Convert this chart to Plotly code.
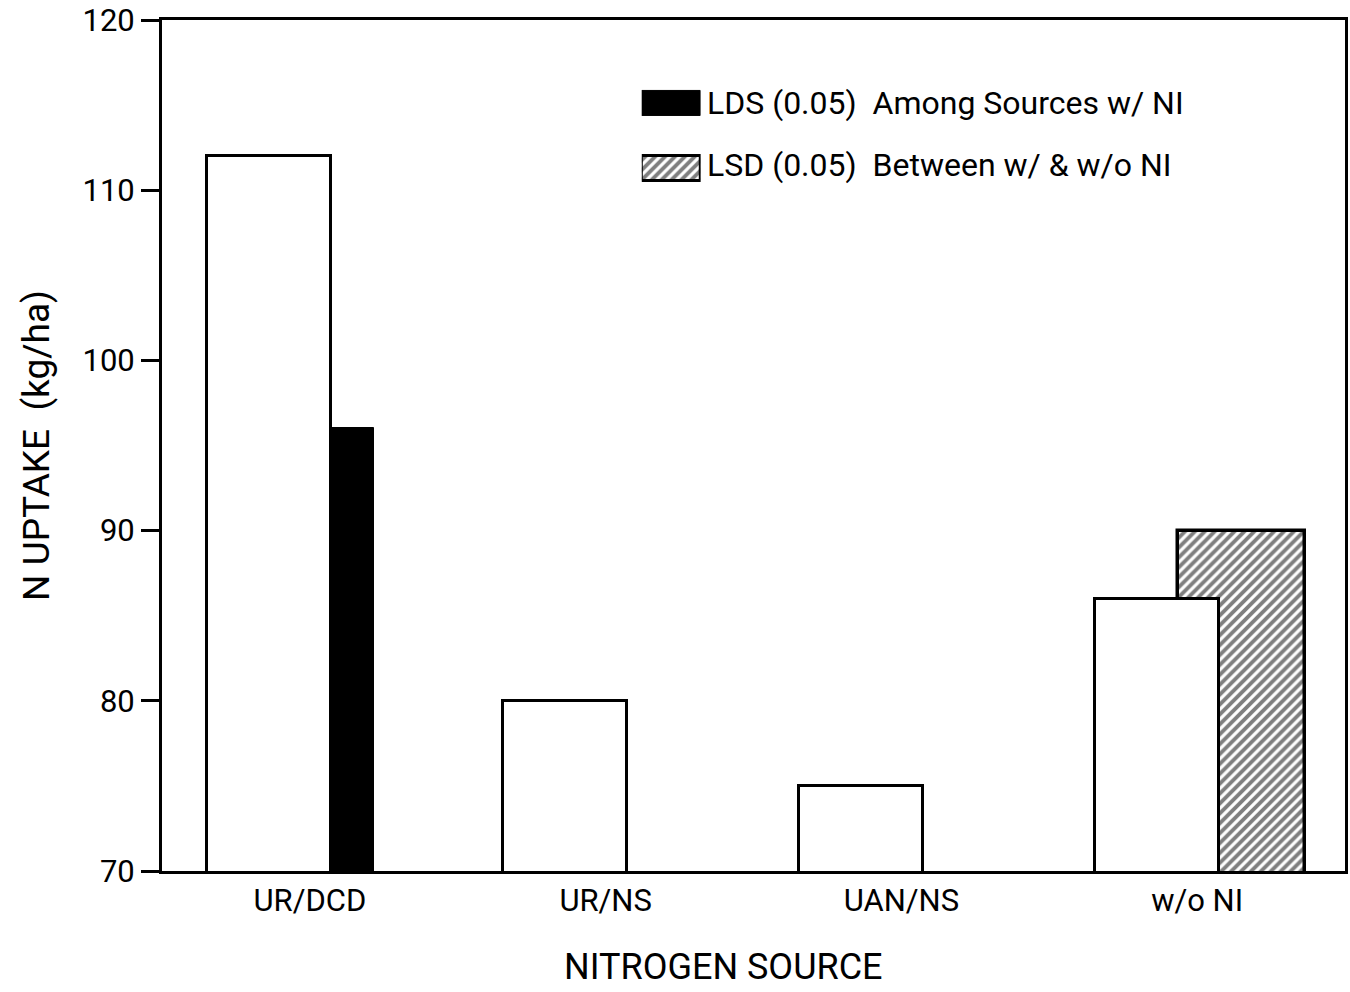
import plotly.graph_objects as go

# Nitrogen sources on the x axis
sources = ["UR/DCD", "UR/NS", "UAN/NS", "w/o NI"]
positions = [0, 1, 2, 3]

# N uptake (kg/ha) for each source
uptake = [112, 80, 75, 86]

# LSD bars: among sources with NI (drawn at UR/DCD) and between w/ and w/o NI (at w/o NI)
lds_among_label = "LDS (0.05)  Among Sources w/ NI"
lds_among_value = 96
lsd_between_label = "LSD (0.05)  Between w/ & w/o NI"
lsd_between_value = 90

y_ticks = [70, 80, 90, 100, 110, 120]

FONT = "Roboto, sans-serif"
HATCH = dict(shape="/", fgcolor="black", bgcolor="white", size=7, solidity=0.55)

fig = go.Figure()

# hatched LSD bar sits behind the w/o NI bar
fig.add_trace(go.Bar(
    x=[positions[3]], y=[lsd_between_value], offset=-0.066, width=0.43,
    marker=dict(color="white", pattern=HATCH, line=dict(color="black", width=3.5)),
    showlegend=False, hoverinfo="skip",
))
fig.add_trace(go.Bar(
    x=positions, y=uptake, offset=-0.347, width=0.42,
    marker=dict(color="white", line=dict(color="black", width=3)),
    showlegend=False,
))
fig.add_trace(go.Bar(
    x=[positions[0]], y=[lds_among_value], offset=0.074, width=0.142,
    marker=dict(color="black", line=dict(color="black", width=1)),
    showlegend=False,
))

# legend key swatches on their own small axes
fig.add_trace(go.Bar(
    y=[0], x=[1], orientation="h", width=0.385, xaxis="x2", yaxis="y2",
    marker=dict(color="black", line=dict(color="black", width=1)),
    showlegend=False, hoverinfo="skip",
))
fig.add_trace(go.Bar(
    y=[1], x=[1], orientation="h", width=0.385, xaxis="x2", yaxis="y2",
    marker=dict(color="white", pattern=HATCH, line=dict(color="black", width=3)),
    showlegend=False, hoverinfo="skip",
))

W, H = 1350, 992
L, R, T, B = 162, 2, 19, 121
pw, ph = W - L - R, H - T - B


def px_x(px):
    return (px - L) / pw


def px_y(py):
    return (H - B - py) / ph


fig.update_layout(
    width=W, height=H,
    margin=dict(l=L, r=R, t=T, b=B),
    paper_bgcolor="white", plot_bgcolor="white",
    barmode="overlay",
    bargap=0,
    font=dict(family=FONT, color="black"),
    xaxis=dict(
        range=[-0.5, 3.5], tickvals=positions, ticktext=sources,
        showline=True, linecolor="black", linewidth=3, mirror=True,
        ticks="", showgrid=False, zeroline=False,
        tickfont=dict(size=31, family=FONT),
    ),
    yaxis=dict(
        range=[70, 120], tickvals=y_ticks,
        showline=True, linecolor="black", linewidth=3, mirror=True,
        ticks="outside", ticklen=18, tickwidth=3, tickcolor="black",
        showgrid=False, zeroline=False,
        tickfont=dict(size=31, family=FONT),
        title=dict(text="N UPTAKE  (kg/ha)", font=dict(size=37, family=FONT), standoff=22),
    ),
    xaxis2=dict(domain=[px_x(643), px_x(702)], range=[0, 1], anchor="y2",
                visible=False, fixedrange=True),
    yaxis2=dict(domain=[px_y(200), px_y(70)], range=[1.5, -0.5], anchor="x2",
                visible=False, fixedrange=True),
)

# x-axis title
fig.add_annotation(
    x=px_x(725), y=px_y(967), xref="paper", yref="paper",
    xanchor="center", yanchor="middle", showarrow=False,
    text="NITROGEN SOURCE", font=dict(size=36, family=FONT, color="black"),
)

for label, py in [(lds_among_label, 102), (lsd_between_label, 164)]:
    fig.add_annotation(
        x=px_x(706), y=px_y(py), xref="paper", yref="paper",
        xanchor="left", yanchor="middle", showarrow=False,
        text=label, font=dict(size=32, family=FONT, color="black"),
    )

fig.write_html("out.html")
